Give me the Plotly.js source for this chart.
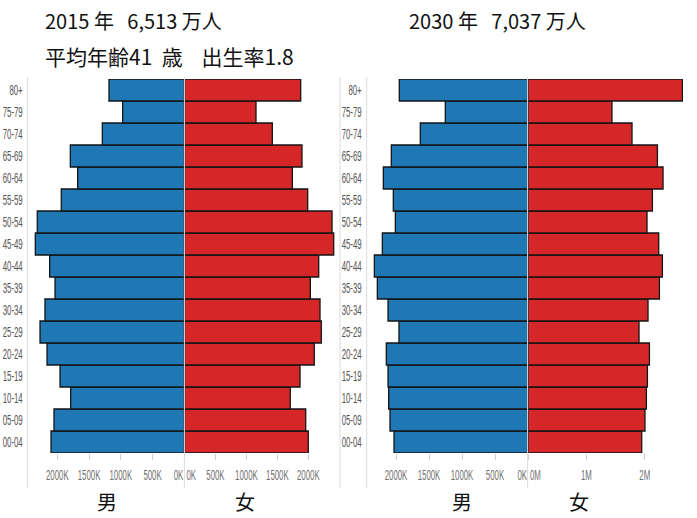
<!DOCTYPE html>
<html><head><meta charset="utf-8">
<script src="https://cdn.plot.ly/plotly-3.0.1.min.js"></script>
<style>html,body{margin:0;padding:0;background:#fff}#chart{width:697px;height:518px}</style>
</head><body><div id="chart"></div>
<script>
// Age groups, bottom to top
const ageGroups = ['00-04','05-09','10-14','15-19','20-24','25-29','30-34','35-39','40-44','45-49','50-54','55-59','60-64','65-69','70-74','75-79','80+'];
// Population in thousands
const male2015   = [2099, 2052, 1789, 1957, 2162, 2272, 2194, 2036, 2120, 2346, 2315, 1937, 1679, 1795, 1291, 970, 1186];
const female2015 = [2000, 1958, 1709, 1866, 2097, 2210, 2189, 2033, 2168, 2410, 2383, 1990, 1742, 1898, 1419, 1155, 1877];
const male2030   = [2030, 2091, 2111, 2121, 2147, 1955, 2121, 2283, 2328, 2207, 2010, 2041, 2192, 2071, 1632, 1253, 1950];
const female2030 = [1947, 2003, 2027, 2045, 2079, 1901, 2055, 2250, 2301, 2238, 2038, 2130, 2312, 2216, 1781, 1438, 2644];
// Tick labels
const kTickVals = [0, 500, 1000, 1500, 2000];
const kTickText = ['0K', '500K', '1000K', '1500K', '2000K'];
const mTickVals = [0, 1000, 2000];
const mTickText = ['0M', '1M', '2M'];
// Texts
const NB = '\u00a0';
const title2015a = '2015 年' + NB.repeat(3) + '6,513 万人';
const title2015b = '平均年齢41' + NB + NB + '歳' + NB.repeat(4) + '出生率1.8';
const title2030a = '2030 年' + NB.repeat(3) + '7,037 万人';
const maleLabel = '男';
const femaleLabel = '女';

const W = 697, H = 518, T = 79, B = 453;
const px = x => x / W;
const py = y => (B - y) / (B - T);

const tickFont = {family: 'Liberation Sans, Arial, sans-serif', size: 14, color: '#707070'};
const barLine = {color: '#151515', width: 1.3};

function bar(x, color, xa, ya) {
  return {type: 'bar', orientation: 'h', x: x, y: ageGroups, xaxis: xa, yaxis: ya,
    marker: {color: color, line: barLine}, hoverinfo: 'x+y', showlegend: false};
}
const data = [
  bar(male2015, '#1f77b4', 'x', 'y'),
  bar(female2015, '#d62728', 'x2', 'y2'),
  bar(male2030, '#1f77b4', 'x3', 'y3'),
  bar(female2030, '#d62728', 'x4', 'y4')
];

function xa(domain, range, tv, tt, anchor) {
  return {domain: domain, range: range, tickvals: tv, ticktext: tt, anchor: anchor, tickangle: 0,
    showgrid: false, zeroline: false, showline: false, ticks: 'outside', ticklen: 6,
    ticklabelstandoff: 3,
    tickcolor: '#d0d0d0', tickfont: tickFont, fixedrange: true};
}
function ya(anchor, labels) {
  return {anchor: anchor, type: 'category', categoryorder: 'array', categoryarray: ageGroups,
    range: [-0.5, ageGroups.length - 0.5], showgrid: false, zeroline: false, showline: false,
    ticks: '', ticklabelstandoff: 4, showticklabels: labels,
    tickfont: Object.assign({}, tickFont, {color: '#555'}), fixedrange: true};
}

const vlines = [27.7, 184.4, 340, 366.7, 527.6].map(x => ({
  type: 'line', xref: 'paper', yref: 'paper', x0: px(x), x1: px(x), y0: py(488), y1: py(77),
  line: {color: '#dcdcdc', width: 1}, layer: 'above'
}));

const fam = 'Noto Sans CJK JP, sans-serif';
function ann(text, x, y, size, xanchor) {
  return {text: text, xref: 'paper', yref: 'paper', x: px(x), y: py(y), xanchor: xanchor, yanchor: 'middle',
    align: xanchor === 'left' ? 'left' : 'center', showarrow: false,
    font: {family: fam, size: size, color: '#111'}};
}

const layout = {
  width: W, height: H,
  margin: {l: 0, r: 0, t: T, b: H - B, pad: 0},
  paper_bgcolor: '#fff', plot_bgcolor: '#fff',
  bargap: 0,
  xaxis:  xa([px(27.7), px(184.3)], [2466, 0], kTickVals, kTickText, 'y'),
  xaxis2: xa([px(184.5), px(340)], [0, 2512], kTickVals, kTickText, 'y2'),
  xaxis3: xa([px(366.7), px(528)], [2444, 0], kTickVals, kTickText, 'y3'),
  xaxis4: xa([px(528), px(683)], [0, 2654], mTickVals, mTickText, 'y4'),
  yaxis:  ya('x', true),
  yaxis2: ya('x2', false),
  yaxis3: ya('x3', true),
  yaxis4: ya('x4', false),
  shapes: vlines,
  annotations: [
    ann(title2015a, 43, 20, 20, 'left'),
    ann(title2015b, 43, 56, 21, 'left'),
    ann(title2030a, 407, 20, 20, 'left'),
    ann(maleLabel, 107, 501, 20, 'center'),
    ann(femaleLabel, 245, 501, 20, 'center'),
    ann(maleLabel, 462, 501, 20, 'center'),
    ann(femaleLabel, 579, 501, 20, 'center')
  ]
};

// horizontally condense a label around its anchor point
function condense(el, ratio) {
  const x = parseFloat(el.getAttribute('x') || 0), y = parseFloat(el.getAttribute('y') || 0);
  const prev = el.getAttribute('transform') || '';
  el.setAttribute('transform', (prev + ' translate(' + x + ',' + y + ') scale(' + ratio + ',1) translate(' + (-x) + ',' + (-y) + ')').trim());
}

Plotly.newPlot('chart', data, layout, {displayModeBar: false, staticPlot: true}).then(gd => {
  // flush the zero labels to the inner side of each panel
  ['xtick', 'x3tick'].forEach(c => gd.querySelectorAll('g.' + c + ' text').forEach(t => {
    if (t.textContent === '0K') { t.setAttribute('text-anchor', 'end'); t.setAttribute('x', (parseFloat(t.getAttribute('x') || 0) - 1)); }
  }));
  ['x2tick', 'x4tick'].forEach(c => gd.querySelectorAll('g.' + c + ' text').forEach(t => {
    if (t.textContent === '0K' || t.textContent === '0M') { t.setAttribute('text-anchor', 'start'); t.setAttribute('x', (parseFloat(t.getAttribute('x') || 0) + 2)); }
  }));
  // condensed tick lettering
  gd.querySelectorAll('g.xtick text, g.x2tick text, g.x3tick text, g.x4tick text').forEach(t => condense(t, 0.56));
  gd.querySelectorAll('g.ytick text, g.y3tick text').forEach(t => condense(t, 0.56));
});
</script>
</body></html>
